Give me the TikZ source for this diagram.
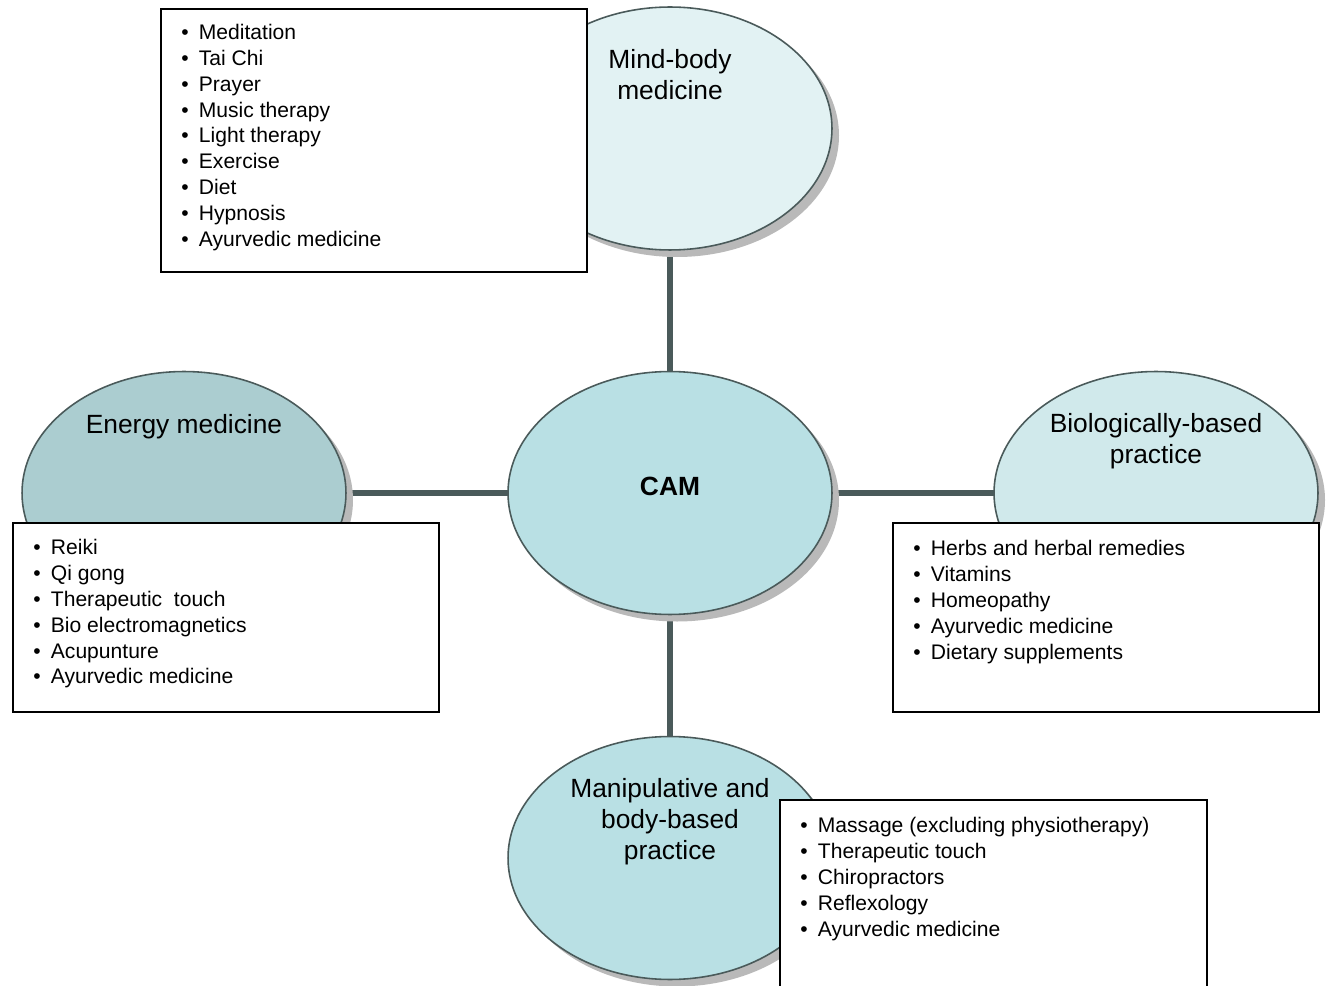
\documentclass[tikz,border=0pt]{standalone}
\usepackage{fontspec}
\setmainfont{Liberation Sans}
\usetikzlibrary{shapes.geometric,shadows,backgrounds,positioning}
\definecolor{edge}{RGB}{74,90,90}
\definecolor{camfill}{RGB}{185,224,228}
\definecolor{mindfill}{RGB}{226,242,243}
\definecolor{energyfill}{RGB}{171,205,208}
\definecolor{biofill}{RGB}{208,233,235}
\newcommand{\li}[1]{\makebox[10pt][l]{\textbullet}#1}

\begin{document}
\begin{tikzpicture}
[x=0.02cm,y=-0.02cm,
 area/.style={ellipse,draw=edge,line width=0.9pt,inner sep=0pt,outer sep=0pt,
   minimum width=6.48cm,minimum height=4.86cm,
   drop shadow={shadow xshift=4pt,shadow yshift=-4pt,fill=gray!55,opacity=1}},
 title/.style={align=center,inner sep=0pt,font=\fontsize{15}{17.6}\selectfont},
 listbox/.style={draw=black,fill=white,line width=1pt,inner sep=0pt,anchor=north west},
 items/.style={align=left,anchor=north west,inner sep=0pt,font=\fontsize{12}{14.78}\selectfont},
 link/.style={draw=edge,line width=3.2pt}]
\useasboundingbox (0,0) rectangle (1329,986);
\clip (0,0) rectangle (1329,986);

% the five areas
\node[area,fill=camfill] (cam) at (670,493) {};
\node[area,fill=mindfill] (mind) at (670,128.5) {};
\node[area,fill=energyfill] (energy) at (184,493) {};
\node[area,fill=biofill] (bio) at (1156,493) {};
\node[area,fill=camfill] (manip) at (670,858) {};

\begin{scope}[on background layer]
\draw [link] (cam.north) -- (mind.south);
\draw [link] (cam.west) -- (energy.east);
\draw [link] (cam.east) -- (bio.west);
\draw [link] (cam.south) -- (manip.north);
\end{scope}

\node[font=\fontsize{15}{17.6}\selectfont\bfseries] (camtxt) at (670,486) {CAM};
\node[title] (mindtxt) at (670,74.5) {Mind-body\\medicine};
\node[title] (energytxt) at (184,427) {Energy medicine};
\node[title] (biotxt) at (1156,441.5) {Biologically-based\\practice};
\node[title] (maniptxt) at (670,821.5) {Manipulative and\\body-based\\practice};

% lists
\node[listbox,minimum width=8.52cm,minimum height=5.26cm] (mindbox) at (160,8) {};
\node[items] (mindlist) at (181,23.5) {\li{Meditation}\\\li{Tai Chi}\\\li{Prayer}\\\li{Music therapy}\\\li{Light therapy}\\\li{Exercise}\\\li{Diet}\\\li{Hypnosis}\\\li{Ayurvedic medicine}};

\node[listbox,minimum width=8.52cm,minimum height=3.78cm] (energybox) at (12,522) {};
\node[items] (energylist) at (33,538.5) {\li{Reiki}\\\li{Qi gong}\\\li{Therapeutic\ \ touch}\\\li{Bio electromagnetics}\\\li{Acupunture}\\\li{Ayurvedic medicine}};

\node[listbox,minimum width=8.52cm,minimum height=3.78cm] (biobox) at (892,522) {};
\node[items] (biolist) at (913,539.5) {\li{Herbs and herbal remedies}\\\li{Vitamins}\\\li{Homeopathy}\\\li{Ayurvedic medicine}\\\li{Dietary supplements}};

\node[listbox,minimum width=8.54cm,minimum height=4.2cm] (manipbox) at (779,799) {};
\node[items] (maniplist) at (800,816.5) {\li{Massage (excluding physiotherapy)}\\\li{Therapeutic touch}\\\li{Chiropractors}\\\li{Reflexology}\\\li{Ayurvedic medicine}};
\end{tikzpicture}
\end{document}
